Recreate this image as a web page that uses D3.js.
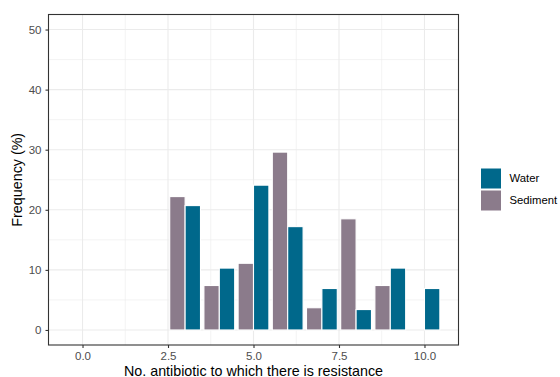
<!DOCTYPE html>
<html>
<head>
<meta charset="utf-8">
<script src="https://cdn.jsdelivr.net/npm/d3@7"></script>
<style>
  body { margin: 0; background: #fff; }
  text { font-family: "Liberation Sans", Arial, sans-serif; }
</style>
</head>
<body>
<svg id="chart" width="560" height="377"></svg>
<script>
// Number of antibiotics resisted (0..10) and share of isolates (%) per source
const resistanceCounts = [0, 1, 2, 3, 4, 5, 6, 7, 8, 9, 10];
const waterPct    = [0, 0, 0, 20.7, 10.3, 24.1, 17.2, 6.9, 3.4, 10.3, 6.9];
const sedimentPct = [0, 0, 0, 22.2, 7.4, 11.1, 29.6, 3.7, 18.5, 7.4, 0];
const seriesNames = ["Water", "Sediment"];
const seriesColors = ["#00688B", "#8B7B8B"];
const xTicks = [0, 2.5, 5, 7.5, 10];
const yTicks = [0, 10, 20, 30, 40, 50];

const svg = d3.select("#chart");
const panel = { left: 48.5, right: 458.5, top: 14.5, bottom: 345 };

const barWidth = 0.9;
const xMin = d3.min(resistanceCounts) - barWidth / 2, xMax = d3.max(resistanceCounts) + barWidth / 2;
const xPad = (xMax - xMin) * 0.05;
const x = d3.scaleLinear().domain([xMin - xPad, xMax + xPad]).range([panel.left, panel.right]);
const y = d3.scaleLinear().domain([-2.5, 52.5]).range([panel.bottom, panel.top]);

// panel background
svg.append("rect").attr("x", panel.left).attr("y", panel.top)
  .attr("width", panel.right - panel.left).attr("height", panel.bottom - panel.top)
  .attr("fill", "#fff");

// minor grid
const yMinor = [5, 15, 25, 35, 45];
const xMinor = [1.25, 3.75, 6.25, 8.75];
const grid = svg.append("g");
grid.selectAll(".ymin").data(yMinor).join("line")
  .attr("x1", panel.left).attr("x2", panel.right)
  .attr("y1", d => y(d)).attr("y2", d => y(d))
  .attr("stroke", "#EBEBEB").attr("stroke-width", 0.6);
grid.selectAll(".xmin").data(xMinor).join("line")
  .attr("y1", panel.top).attr("y2", panel.bottom)
  .attr("x1", d => x(d)).attr("x2", d => x(d))
  .attr("stroke", "#EBEBEB").attr("stroke-width", 0.6);
// major grid
grid.selectAll(".ymaj").data(yTicks).join("line")
  .attr("x1", panel.left).attr("x2", panel.right)
  .attr("y1", d => y(d)).attr("y2", d => y(d))
  .attr("stroke", "#EBEBEB").attr("stroke-width", 1.1);
grid.selectAll(".xmaj").data(xTicks).join("line")
  .attr("y1", panel.top).attr("y2", panel.bottom)
  .attr("x1", d => x(d)).attr("x2", d => x(d))
  .attr("stroke", "#EBEBEB").attr("stroke-width", 1.1);

// dodged bars: Sediment on the left half, Water on the right half
const half = barWidth / 2;
const bars = [];
resistanceCounts.forEach((c, i) => {
  bars.push({ x0: c - half, x1: c, v: sedimentPct[i], color: seriesColors[1] });
  bars.push({ x0: c, x1: c + half, v: waterPct[i], color: seriesColors[0] });
});
svg.append("g").selectAll("rect").data(bars.filter(b => b.v > 0)).join("rect")
  .attr("x", d => x(d.x0)).attr("width", d => x(d.x1) - x(d.x0))
  .attr("y", d => y(d.v)).attr("height", d => y(0) - y(d.v))
  .attr("fill", d => d.color).attr("stroke", "#ffffff").attr("stroke-width", 1.1);

// panel border
svg.append("rect").attr("x", panel.left).attr("y", panel.top)
  .attr("width", panel.right - panel.left).attr("height", panel.bottom - panel.top)
  .attr("fill", "none").attr("stroke", "#333333").attr("stroke-width", 1.1);

// axes
const xAxis = d3.axisBottom(x).tickValues(xTicks).tickFormat(d3.format(".1f"))
  .tickSize(3).tickPadding(4);
const gx = svg.append("g").attr("transform", `translate(0,${panel.bottom})`).call(xAxis);
gx.select(".domain").remove();
gx.selectAll("line").attr("stroke", "#333333").attr("stroke-width", 1.1);
gx.selectAll("text").attr("fill", "#4D4D4D").attr("font-size", 11.5)
  .style("font-family", "Liberation Sans, Arial, sans-serif");

const yAxis = d3.axisLeft(y).tickValues(yTicks).tickFormat(d3.format("d"))
  .tickSize(3).tickPadding(4);
const gy = svg.append("g").attr("transform", `translate(${panel.left},0)`).call(yAxis);
gy.select(".domain").remove();
gy.selectAll("line").attr("stroke", "#333333").attr("stroke-width", 1.1);
gy.selectAll("text").attr("fill", "#4D4D4D").attr("font-size", 11.5)
  .style("font-family", "Liberation Sans, Arial, sans-serif");

// axis titles
svg.append("text").attr("x", (panel.left + panel.right) / 2).attr("y", 375.5)
  .attr("text-anchor", "middle").attr("font-size", 14.3).attr("fill", "#000")
  .text("No. antibiotic to which there is resistance");
svg.append("text")
  .attr("transform", `translate(22,${(panel.top + panel.bottom) / 2}) rotate(-90)`)
  .attr("text-anchor", "middle").attr("font-size", 14.3).attr("fill", "#000")
  .text("Frequency (%)");

// legend
const legend = svg.append("g").attr("transform", "translate(480.5,168)");
seriesNames.forEach((name, i) => {
  const g = legend.append("g").attr("transform", `translate(0,${i * 22})`);
  g.append("rect").attr("width", 21).attr("height", 21)
    .attr("fill", seriesColors[i]).attr("stroke", "#fff").attr("stroke-width", 1);
  g.append("text").attr("x", 29).attr("y", 10.5).attr("dy", "0.35em")
    .attr("font-size", 11.3).attr("fill", "#000").text(name);
});
</script>
</body>
</html>
